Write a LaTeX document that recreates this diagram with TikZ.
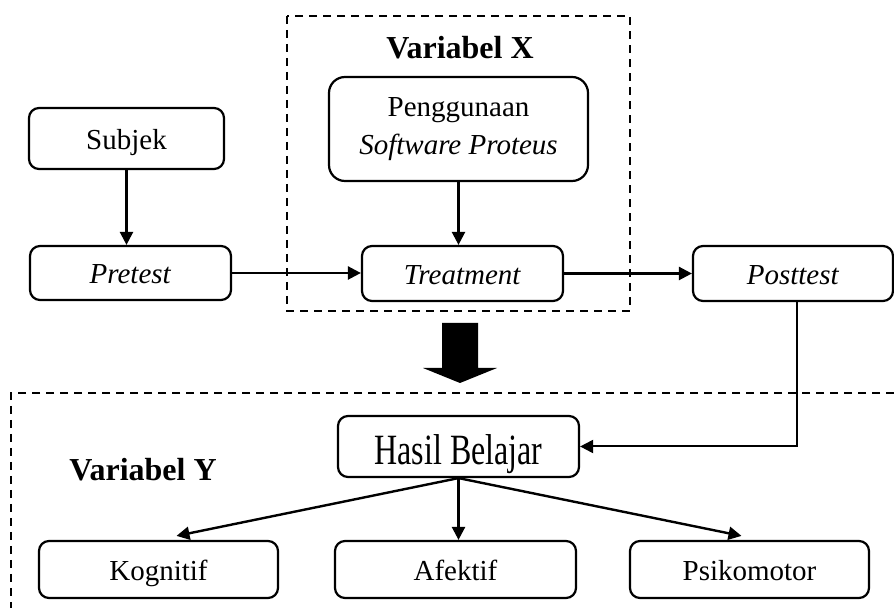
\documentclass[tikz,border=0pt]{standalone}
\usepackage{fontspec}
\setmainfont{Liberation Serif}
\usetikzlibrary{arrows.meta}
\begin{document}
\begin{tikzpicture}[x=0.5pt,y=-0.5pt,
  box/.style={draw, line width=1.1pt, rounded corners=5pt, inner sep=0pt, align=center,
    font=\fontsize{14.5}{19}\selectfont},
  one/.style={text height=11.5pt, text depth=0.5pt},
  arr/.style={line width=1.2pt, -{Triangle[length=6.5pt,width=6.5pt]}},
  dbox/.style={line width=1.1pt, dash pattern=on 4pt off 3pt},
  vlabel/.style={font=\fontsize{16}{19}\selectfont\bfseries}
]
\useasboundingbox (0,0) rectangle (894,608);
% dashed frames
\draw[dbox] (287,16) rectangle (630,311);
\draw[dbox] (894,393) -- (11,393) -- (11,608);
% labels
\node[vlabel] (vx) at (460,48) {Variabel X};
\node[vlabel] (vy) at (143,470) {Variabel Y};
% boxes
\node[box, one, minimum width=97.5pt, minimum height=30.5pt] (subjek) at (126.5,138.5) {Subjek};
\node[box, minimum width=129.5pt, minimum height=52pt, rounded corners=8pt] (peng) at (458.5,129) {\raisebox{0pt}{Penggunaan}\\\textit{Software Proteus}};
\node[box, one, minimum width=100.5pt, minimum height=27pt] (pre) at (130.5,273) {\textit{Pretest}};
\node[box, one, minimum width=100.5pt, minimum height=27.5pt] (treat) at (462.5,273.5) {\textit{Treatment}};
\node[box, one, minimum width=100pt, minimum height=27.5pt] (post) at (793,273.5) {\textit{Posttest}};
\node[box, text height=19pt, text depth=0.5pt, minimum width=120.5pt, minimum height=30.5pt,
  font=\fontsize{16}{19}\selectfont] (hasil) at (458.5,446.5) {\scalebox{1}[1.35]{Hasil Belajar}};
\node[box, one, minimum width=119.5pt, minimum height=28.5pt] (kog) at (158.5,569.5) {Kognitif};
\node[box, one, minimum width=120.5pt, minimum height=28.5pt] (afek) at (455.5,569.5) {Afektif};
\node[box, one, minimum width=119.5pt, minimum height=28.5pt] (psiko) at (749.5,569.5) {Psikomotor};
% connectors
\draw[arr] (subjek.south) -- (subjek.south |- pre.north);
\draw[arr] (peng.south) -- (peng.south |- treat.north);
\draw[arr] (pre.east) -- (pre.east -| treat.west);
\draw[arr] (treat.east) -- (treat.east -| post.west);
\draw[arr, line width=1pt] ([xshift=2pt]post.south) |- (hasil.east);
\draw[arr] (hasil.south) -- ([xshift=9pt,yshift=2pt]kog.north);
\draw[arr] (hasil.south) -- (hasil.south |- afek.north);
\draw[arr] (hasil.south) -- ([xshift=-4pt,yshift=2pt]psiko.north);
% block arrow
\fill (442,323) -- (478,323) -- (478,368) -- (497,368) -- (460,383) -- (423,368) -- (442,368) -- cycle;
\end{tikzpicture}
\end{document}
